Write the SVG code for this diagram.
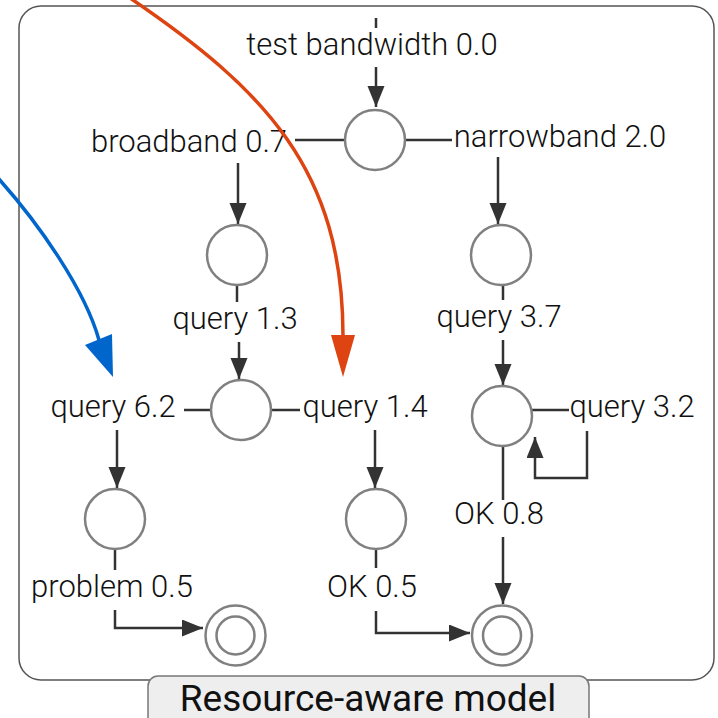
<svg xmlns="http://www.w3.org/2000/svg" width="718" height="718" viewBox="0 0 718 718">
<style>
.st{fill:#fff;stroke:#808080;stroke-width:2.5}
.e{fill:none;stroke:#333;stroke-width:2.5}
.lb{font-family:Roboto,"Liberation Sans",sans-serif;font-weight:300;font-size:31px;fill:#111;text-anchor:middle}
.ttl{font-family:Roboto,"Liberation Sans",sans-serif;font-size:37px;fill:#111;text-anchor:middle}
</style>
<defs>
<marker id="ah" markerUnits="userSpaceOnUse" markerWidth="22" markerHeight="18" refX="21" refY="8.5" orient="auto">
<path d="M0,0 L21,8.5 L0,17 z" fill="#333"/>
</marker>
</defs>
<rect x="19" y="6" width="695" height="674" rx="22" fill="#fff" stroke="#555" stroke-width="1.5"/>
<g id="title">
<rect x="148" y="676" width="441" height="60" rx="10" fill="#eee" stroke="#777" stroke-width="1.5"/>
<text class="ttl" x="368" y="711">Resource-aware model</text>
</g>
<g id="edges">
<line class="e" x1="376" y1="18" x2="376" y2="28"/>
<line class="e" x1="376" y1="67" x2="376" y2="107" marker-end="url(#ah)"/>
<line class="e" x1="345" y1="140" x2="295" y2="140"/>
<line class="e" x1="238" y1="163" x2="238" y2="224" marker-end="url(#ah)"/>
<line class="e" x1="405" y1="140" x2="452" y2="140"/>
<line class="e" x1="498" y1="157" x2="498" y2="224" marker-end="url(#ah)"/>
<line class="e" x1="237" y1="285" x2="237" y2="302"/>
<line class="e" x1="239" y1="342" x2="239" y2="379" marker-end="url(#ah)"/>
<line class="e" x1="211" y1="410" x2="184" y2="410"/>
<line class="e" x1="117" y1="430" x2="117" y2="488" marker-end="url(#ah)"/>
<line class="e" x1="272" y1="410" x2="300" y2="410"/>
<line class="e" x1="375" y1="430" x2="375" y2="488" marker-end="url(#ah)"/>
<line class="e" x1="503" y1="285" x2="503" y2="300"/>
<line class="e" x1="503" y1="340" x2="503" y2="385" marker-end="url(#ah)"/>
<line class="e" x1="532" y1="410" x2="569" y2="410"/>
<path class="e" d="M587,431 V478 H535 V437" marker-end="url(#ah)"/>
<line class="e" x1="503" y1="446" x2="503" y2="500"/>
<line class="e" x1="503" y1="537" x2="503" y2="604" marker-end="url(#ah)"/>
<line class="e" x1="115" y1="549" x2="115" y2="570"/>
<path class="e" d="M115,610 V628 H203" marker-end="url(#ah)"/>
<line class="e" x1="376" y1="549" x2="376" y2="568"/>
<path class="e" d="M376,611 V633 H470" marker-end="url(#ah)"/>
</g>
<g id="labels">
<text class="lb" x="372" y="55">test bandwidth 0.0</text>
<text class="lb" x="189" y="152">broadband 0.7</text>
<text class="lb" x="560" y="147">narrowband 2.0</text>
<text class="lb" x="235" y="329">query 1.3</text>
<text class="lb" x="113" y="417">query 6.2</text>
<text class="lb" x="365" y="417">query 1.4</text>
<text class="lb" x="499" y="327">query 3.7</text>
<text class="lb" x="632" y="417">query 3.2</text>
<text class="lb" x="499" y="524">OK 0.8</text>
<text class="lb" x="112" y="597">problem 0.5</text>
<text class="lb" x="372" y="597">OK 0.5</text>
</g>
<g id="n0"><circle class="st" cx="375" cy="140" r="30"/></g>
<g id="n1"><circle class="st" cx="237" cy="255" r="30"/></g>
<g id="n2"><circle class="st" cx="501" cy="255" r="30"/></g>
<g id="n3"><circle class="st" cx="241" cy="410" r="30"/></g>
<g id="n4"><circle class="st" cx="502" cy="416" r="30"/></g>
<g id="n5"><circle class="st" cx="115" cy="519" r="30"/></g>
<g id="n6"><circle class="st" cx="376" cy="519" r="30"/></g>
<g id="f1"><circle class="st" cx="235.5" cy="635.5" r="30"/><circle class="st" cx="235.5" cy="635.5" r="19"/></g>
<g id="f2"><circle class="st" cx="502" cy="635.5" r="30"/><circle class="st" cx="502" cy="635.5" r="19"/></g>
<g id="highlights">
<path d="M-2,178 C40,225 85,290 99,340" fill="none" stroke="#0066cc" stroke-width="3.5"/>
<polygon points="85,345 112,334 113,377" fill="#0066cc"/>
<path d="M130,-2 C265,90 343,170 343,336" fill="none" stroke="#dd4411" stroke-width="3.5"/>
<polygon points="331,335 355,335 343,377" fill="#dd4411"/>
</g>
</svg>
